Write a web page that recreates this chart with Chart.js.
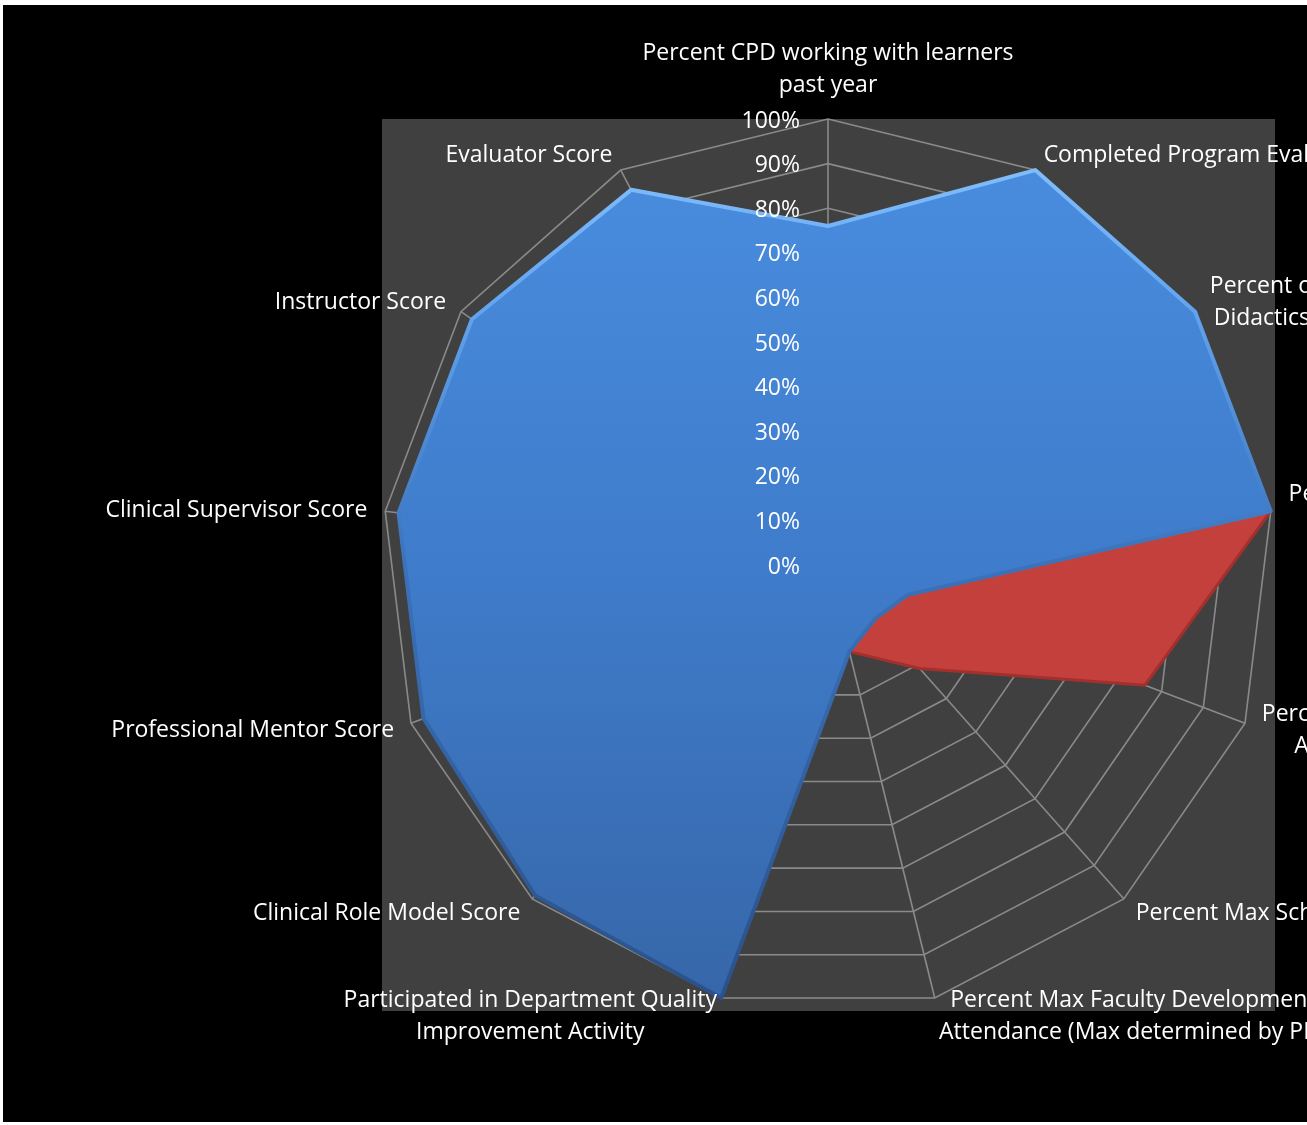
<!DOCTYPE html>
<html>
<head>
<meta charset="utf-8">
<title>Faculty teaching profile</title>
<script src="https://cdn.jsdelivr.net/npm/chart.js@4/dist/chart.umd.min.js"></script>
<style>
  html, body { margin: 0; padding: 0; background: #ffffff; overflow: hidden; }
  #frame { position: absolute; left: 3px; top: 5px; width: 1304px; height: 1117px; background: #000000; overflow: hidden; }
  #radarChart { display: block; }
</style>
</head>
<body>
<div id="frame"><canvas id="radarChart" width="1700" height="1117"></canvas></div>
<script>
// Axis labels (one array per label, one entry per line)
const categories = [
    ['Percent CPD working with learners', 'past year'],
    ['Completed Program Evaluation'],
    ['Percent of Resident', 'Didactics Attended'],
    ['Percent Expected Lectures', 'Delivered'],
    ['Percent Max Didactic Lectures', 'Attended (of Scheduled)'],
    ['Percent Max Scholarly Activity'],
    ['Percent Max Faculty Development', 'Attendance (Max determined by PD)'],
    ['Participated in Department Quality', 'Improvement Activity'],
    ['Clinical Role Model Score'],
    ['Professional Mentor Score'],
    ['Clinical Supervisor Score'],
    ['Instructor Score'],
    ['Evaluator Score']
];

// Values in percent
const seriesOne = [76, 100, 100, 100, 19, 16, 20, 100, 99, 97, 97, 97, 95];
const seriesTwo = [0, 0, 0, 100, 76, 31, 20, 0, 0, 0, 0, 0, 0];

const tickValues = [0, 10, 20, 30, 40, 50, 60, 70, 80, 90, 100];
const tickLabels = ['0%', '10%', '20%', '30%', '40%', '50%', '60%', '70%', '80%', '90%', '100%'];

const LABEL_FONT = '23px "Open Sans"';
const LINE_HEIGHT = 32;
const GRID_COLOR = '#8a8a8a';

// cached gradients, built once the chart area is known
const gradients = {};

function verticalGradient(chart, key, stops) {
    const area = chart.chartArea;
    if (!area) return stops[0][1];
    if (!gradients[key]) {
        const g = chart.ctx.createLinearGradient(0, area.top, 0, area.bottom);
        stops.forEach(s => g.addColorStop(s[0], s[1]));
        gradients[key] = g;
    }
    return gradients[key];
}

// grey plot area behind the web
const plotBackground = {
    id: 'plotBackground',
    beforeDraw(chart) {
        const { ctx, chartArea } = chart;
        ctx.save();
        ctx.fillStyle = '#404040';
        ctx.fillRect(chartArea.left, chartArea.top, chartArea.right - chartArea.left, chartArea.bottom - chartArea.top);
        ctx.restore();
    }
};

// tick labels left of the vertical axis, and category labels with centred lines
const radarText = {
    id: 'radarText',
    afterDraw(chart) {
        const scale = chart.scales.r;
        const ctx = chart.ctx;
        ctx.save();
        ctx.font = LABEL_FONT;
        ctx.fillStyle = '#ffffff';
        ctx.textBaseline = 'middle';

        // ticks
        ctx.textAlign = 'right';
        tickValues.forEach((v, i) => {
            const d = scale.getDistanceFromCenterForValue(v);
            ctx.fillText(tickLabels[i], scale.xCenter - 28, scale.yCenter - d + 2);
        });

        // category labels
        const n = categories.length;
        categories.forEach((lines, i) => {
            const pos = scale.getPointPosition(i, scale.drawingArea + 18);
            const angle = i * 360 / n;
            const widths = lines.map(t => ctx.measureText(t).width);
            const blockW = Math.max(...widths);
            let left;
            if (angle === 0 || angle === 180) left = pos.x - blockW / 2;
            else if (angle < 180) left = pos.x;
            else left = pos.x - blockW;
            let firstY;
            if (angle === 0) firstY = pos.y - 16 - (lines.length - 1) * LINE_HEIGHT;
            else firstY = pos.y + 1 - (lines.length - 1) * LINE_HEIGHT / 2;
            ctx.textAlign = 'center';
            lines.forEach((t, k) => {
                ctx.fillText(t, left + blockW / 2, firstY + k * LINE_HEIGHT);
            });
        });
        ctx.restore();
    }
};

const ctx = document.getElementById('radarChart');

new Chart(ctx, {
    type: 'radar',
    data: {
        labels: categories,
        datasets: [
            {
                label: 'Series1',
                data: seriesOne,
                fill: true,
                backgroundColor: c => verticalGradient(c.chart, 'blueFill', [[0, '#4a8ee0'], [0.5, '#3f7ccb'], [1, '#3666a8']]),
                borderColor: c => verticalGradient(c.chart, 'blueEdge', [[0, '#8cc6ff'], [0.2, '#64a6f0'], [0.5, '#3b72ba'], [1, '#2a5088']]),
                borderWidth: 4,
                borderJoinStyle: 'round',
                pointRadius: 0,
                tension: 0
            },
            {
                label: 'Series2',
                data: seriesTwo,
                fill: true,
                backgroundColor: '#c4403c',
                borderColor: '#a3302d',
                borderWidth: 3,
                borderJoinStyle: 'round',
                pointRadius: 0,
                tension: 0
            }
        ]
    },
    options: {
        responsive: false,
        animation: false,
        layout: {
            padding: { left: 379, top: 114, right: 1700 - 1272, bottom: 1117 - 1006 }
        },
        plugins: {
            legend: { display: false },
            tooltip: { enabled: false }
        },
        scales: {
            r: {
                min: 0,
                max: 100,
                ticks: { stepSize: 10, display: false },
                grid: { color: GRID_COLOR, lineWidth: 1.6 },
                angleLines: { color: GRID_COLOR, lineWidth: 1.6 },
                pointLabels: { display: false }
            }
        }
    },
    plugins: [plotBackground, radarText]
});
</script>
</body>
</html>
